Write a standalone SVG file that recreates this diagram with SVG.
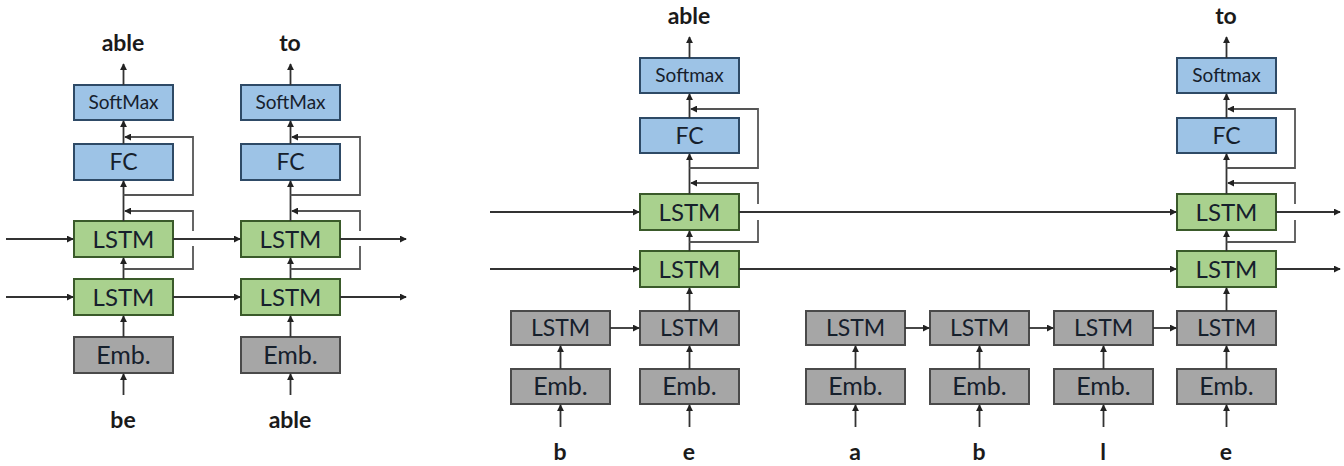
<svg xmlns="http://www.w3.org/2000/svg" width="1344" height="466" viewBox="0 0 1344 466">
  <defs>
    <marker id="ah" viewBox="0 0 8 8" refX="7" refY="4" markerWidth="7" markerHeight="7" markerUnits="userSpaceOnUse" orient="auto">
      <path d="M0,0 L8,4 L0,8 z" fill="#222"/>
    </marker>
    <style>
      .blue { fill: #9dc3e6; stroke: #2e4a66; stroke-width: 2; }
      .green { fill: #a9d18e; stroke: #3a5a2a; stroke-width: 2; }
      .grey { fill: #a6a6a6; stroke: #4a4a4a; stroke-width: 2; }
      .lbl { font-family: Lato, "Open Sans", sans-serif; fill: #16202c; text-anchor: middle; }
      .big { font-size: 24px; }
      .fc { font-size: 23px; }
      .mid { font-size: 23px; }
      .emb { font-size: 25px; }
      .sm { font-size: 19px; }
      .word { font-family: Lato, "Open Sans", sans-serif; font-weight: bold; font-size: 23px; fill: #1a1a1a; text-anchor: middle; }
      .ln { fill: none; stroke: #333; stroke-width: 1.8; }
      .ar { fill: none; stroke: #333; stroke-width: 1.8; marker-end: url(#ah); }
      .lp { fill: none; stroke: #555; stroke-width: 1.8; }
    </style>
  </defs>

  <!-- ===== Left model: word-level, two steps ===== -->
  <g id="left-step1-softmax"><rect class="blue" x="74" y="85" width="99" height="35"/><text class="lbl sm" x="123.5" y="109">SoftMax</text></g>
  <g id="left-step1-fc"><rect class="blue" x="74" y="144" width="99" height="36"/><text class="lbl fc" x="123.5" y="170">FC</text></g>
  <g id="left-step1-lstm2"><rect class="green" x="74" y="221" width="99" height="36"/><text class="lbl big" x="123.5" y="248">LSTM</text></g>
  <g id="left-step1-lstm1"><rect class="green" x="74" y="279" width="99" height="36"/><text class="lbl big" x="123.5" y="306">LSTM</text></g>
  <g id="left-step1-emb"><rect class="grey" x="74" y="337" width="99" height="36"/><text class="lbl emb" x="123.5" y="364">Emb.</text></g>

  <g id="left-step2-softmax"><rect class="blue" x="241" y="85" width="99" height="35"/><text class="lbl sm" x="290.5" y="109">SoftMax</text></g>
  <g id="left-step2-fc"><rect class="blue" x="241" y="144" width="99" height="36"/><text class="lbl fc" x="290.5" y="170">FC</text></g>
  <g id="left-step2-lstm2"><rect class="green" x="241" y="221" width="99" height="36"/><text class="lbl big" x="290.5" y="248">LSTM</text></g>
  <g id="left-step2-lstm1"><rect class="green" x="241" y="279" width="99" height="36"/><text class="lbl big" x="290.5" y="306">LSTM</text></g>
  <g id="left-step2-emb"><rect class="grey" x="241" y="337" width="99" height="36"/><text class="lbl emb" x="290.5" y="364">Emb.</text></g>

  <g id="left-words">
    <text class="word" x="123" y="51">able</text>
    <text class="word" x="290" y="51">to</text>
    <text class="word" x="123" y="428">be</text>
    <text class="word" x="290" y="428">able</text>
  </g>

  <!-- ===== Right model: character-level input ===== -->
  <g id="right-e-softmax"><rect class="blue" x="640" y="58" width="99" height="35"/><text class="lbl sm" x="689.5" y="82">Softmax</text></g>
  <g id="right-e-fc"><rect class="blue" x="640" y="118" width="99" height="35"/><text class="lbl fc" x="689.5" y="144">FC</text></g>
  <g id="right-e-lstm2"><rect class="green" x="640" y="194" width="99" height="36"/><text class="lbl big" x="689.5" y="221">LSTM</text></g>
  <g id="right-e-lstm1"><rect class="green" x="640" y="251" width="99" height="36"/><text class="lbl big" x="689.5" y="278">LSTM</text></g>

  <g id="right-t-softmax"><rect class="blue" x="1177" y="58" width="99" height="35"/><text class="lbl sm" x="1226.5" y="82">Softmax</text></g>
  <g id="right-t-fc"><rect class="blue" x="1177" y="118" width="99" height="35"/><text class="lbl fc" x="1226.5" y="144">FC</text></g>
  <g id="right-t-lstm2"><rect class="green" x="1177" y="194" width="99" height="36"/><text class="lbl big" x="1226.5" y="221">LSTM</text></g>
  <g id="right-t-lstm1"><rect class="green" x="1177" y="251" width="99" height="36"/><text class="lbl big" x="1226.5" y="278">LSTM</text></g>

  <!-- character encoder cells -->
  <g id="char-b1-lstm"><rect class="grey" x="511" y="311" width="99" height="34"/><text class="lbl mid" x="560.5" y="336">LSTM</text></g>
  <g id="char-b1-emb"><rect class="grey" x="511" y="369" width="99" height="35"/><text class="lbl emb" x="560.5" y="395">Emb.</text></g>
  <g id="char-e1-lstm"><rect class="grey" x="640" y="311" width="99" height="34"/><text class="lbl mid" x="689.5" y="336">LSTM</text></g>
  <g id="char-e1-emb"><rect class="grey" x="640" y="369" width="99" height="35"/><text class="lbl emb" x="689.5" y="395">Emb.</text></g>
  <g id="char-a-lstm"><rect class="grey" x="806" y="311" width="99" height="34"/><text class="lbl mid" x="855.5" y="336">LSTM</text></g>
  <g id="char-a-emb"><rect class="grey" x="806" y="369" width="99" height="35"/><text class="lbl emb" x="855.5" y="395">Emb.</text></g>
  <g id="char-b2-lstm"><rect class="grey" x="930" y="311" width="99" height="34"/><text class="lbl mid" x="979.5" y="336">LSTM</text></g>
  <g id="char-b2-emb"><rect class="grey" x="930" y="369" width="99" height="35"/><text class="lbl emb" x="979.5" y="395">Emb.</text></g>
  <g id="char-l-lstm"><rect class="grey" x="1054" y="311" width="99" height="34"/><text class="lbl mid" x="1103.5" y="336">LSTM</text></g>
  <g id="char-l-emb"><rect class="grey" x="1054" y="369" width="99" height="35"/><text class="lbl emb" x="1103.5" y="395">Emb.</text></g>
  <g id="char-e2-lstm"><rect class="grey" x="1177" y="311" width="99" height="34"/><text class="lbl mid" x="1226.5" y="336">LSTM</text></g>
  <g id="char-e2-emb"><rect class="grey" x="1177" y="369" width="99" height="35"/><text class="lbl emb" x="1226.5" y="395">Emb.</text></g>

  <g id="right-words">
    <text class="word" x="689" y="24">able</text>
    <text class="word" x="1226" y="24">to</text>
    <text class="word" x="560" y="460">b</text>
    <text class="word" x="689" y="460">e</text>
    <text class="word" x="855" y="460">a</text>
    <text class="word" x="979" y="460">b</text>
    <text class="word" x="1103" y="460">l</text>
    <text class="word" x="1226" y="460">e</text>
  </g>

  <!-- ===== Connectors ===== -->
  <g id="connectors">
    <!-- left model, step 1 column (x=123.5) -->
    <line class="ar" x1="123.5" y1="395" x2="123.5" y2="374"/>
    <line class="ar" x1="123.5" y1="337" x2="123.5" y2="316"/>
    <line class="ar" x1="123.5" y1="279" x2="123.5" y2="258"/>
    <line class="ar" x1="123.5" y1="221" x2="123.5" y2="181"/>
    <line class="ar" x1="123.5" y1="144" x2="123.5" y2="121"/>
    <line class="ar" x1="123.5" y1="85" x2="123.5" y2="64"/>
    <polyline class="lp" points="123.5,269 193,269 193,246"/>
    <polyline class="lp" points="193,231 193,211 125,211" marker-end="url(#ah)"/>
    <polyline class="lp" points="123.5,195 193,195 193,137 125,137" marker-end="url(#ah)"/>

    <!-- left model, step 2 column (x=290.5) -->
    <line class="ar" x1="290.5" y1="395" x2="290.5" y2="374"/>
    <line class="ar" x1="290.5" y1="337" x2="290.5" y2="316"/>
    <line class="ar" x1="290.5" y1="279" x2="290.5" y2="258"/>
    <line class="ar" x1="290.5" y1="221" x2="290.5" y2="181"/>
    <line class="ar" x1="290.5" y1="144" x2="290.5" y2="121"/>
    <line class="ar" x1="290.5" y1="85" x2="290.5" y2="64"/>
    <polyline class="lp" points="290.5,269 360,269 360,246"/>
    <polyline class="lp" points="360,231 360,211 292,211" marker-end="url(#ah)"/>
    <polyline class="lp" points="290.5,195 360,195 360,137 292,137" marker-end="url(#ah)"/>

    <!-- left model, recurrent state -->
    <line class="ar" x1="6" y1="239" x2="73" y2="239"/>
    <line class="ar" x1="173" y1="239" x2="240" y2="239"/>
    <line class="ar" x1="340" y1="239" x2="406" y2="239"/>
    <line class="ar" x1="6" y1="297" x2="73" y2="297"/>
    <line class="ar" x1="173" y1="297" x2="240" y2="297"/>
    <line class="ar" x1="340" y1="297" x2="406" y2="297"/>

    <!-- right model, word-level column for "e" (x=689.5) -->
    <line class="ar" x1="689.5" y1="311" x2="689.5" y2="288"/>
    <line class="ar" x1="689.5" y1="251" x2="689.5" y2="231"/>
    <line class="ar" x1="689.5" y1="194" x2="689.5" y2="154"/>
    <line class="ar" x1="689.5" y1="118" x2="689.5" y2="94"/>
    <line class="ar" x1="689.5" y1="58" x2="689.5" y2="37"/>
    <polyline class="lp" points="689.5,242 758,242 758,220"/>
    <polyline class="lp" points="758,204 758,183 691,183" marker-end="url(#ah)"/>
    <polyline class="lp" points="689.5,168 758,168 758,109 691,109" marker-end="url(#ah)"/>

    <!-- right model, word-level column for the last "e" (x=1226.5) -->
    <line class="ar" x1="1226.5" y1="311" x2="1226.5" y2="288"/>
    <line class="ar" x1="1226.5" y1="251" x2="1226.5" y2="231"/>
    <line class="ar" x1="1226.5" y1="194" x2="1226.5" y2="154"/>
    <line class="ar" x1="1226.5" y1="118" x2="1226.5" y2="94"/>
    <line class="ar" x1="1226.5" y1="58" x2="1226.5" y2="37"/>
    <polyline class="lp" points="1226.5,242 1295,242 1295,220"/>
    <polyline class="lp" points="1295,204 1295,183 1228,183" marker-end="url(#ah)"/>
    <polyline class="lp" points="1226.5,168 1295,168 1295,109 1228,109" marker-end="url(#ah)"/>

    <!-- right model, recurrent state -->
    <line class="ar" x1="490" y1="212" x2="639" y2="212"/>
    <line class="ar" x1="739" y1="212" x2="1176" y2="212"/>
    <line class="ar" x1="1276" y1="212" x2="1340" y2="212"/>
    <line class="ar" x1="490" y1="269" x2="639" y2="269"/>
    <line class="ar" x1="739" y1="269" x2="1176" y2="269"/>
    <line class="ar" x1="1276" y1="269" x2="1340" y2="269"/>

    <!-- character inputs into embeddings and encoder LSTMs -->
    <line class="ar" x1="560.5" y1="427" x2="560.5" y2="405"/>
    <line class="ar" x1="560.5" y1="369" x2="560.5" y2="346"/>
    <line class="ar" x1="689.5" y1="427" x2="689.5" y2="405"/>
    <line class="ar" x1="689.5" y1="369" x2="689.5" y2="346"/>
    <line class="ar" x1="855.5" y1="427" x2="855.5" y2="405"/>
    <line class="ar" x1="855.5" y1="369" x2="855.5" y2="346"/>
    <line class="ar" x1="979.5" y1="427" x2="979.5" y2="405"/>
    <line class="ar" x1="979.5" y1="369" x2="979.5" y2="346"/>
    <line class="ar" x1="1103.5" y1="427" x2="1103.5" y2="405"/>
    <line class="ar" x1="1103.5" y1="369" x2="1103.5" y2="346"/>
    <line class="ar" x1="1226.5" y1="427" x2="1226.5" y2="405"/>
    <line class="ar" x1="1226.5" y1="369" x2="1226.5" y2="346"/>

    <!-- character encoder chain -->
    <line class="ar" x1="610" y1="328" x2="639" y2="328"/>
    <line class="ar" x1="905" y1="328" x2="929" y2="328"/>
    <line class="ar" x1="1029" y1="328" x2="1053" y2="328"/>
    <line class="ar" x1="1153" y1="328" x2="1176" y2="328"/>
  </g>
</svg>
